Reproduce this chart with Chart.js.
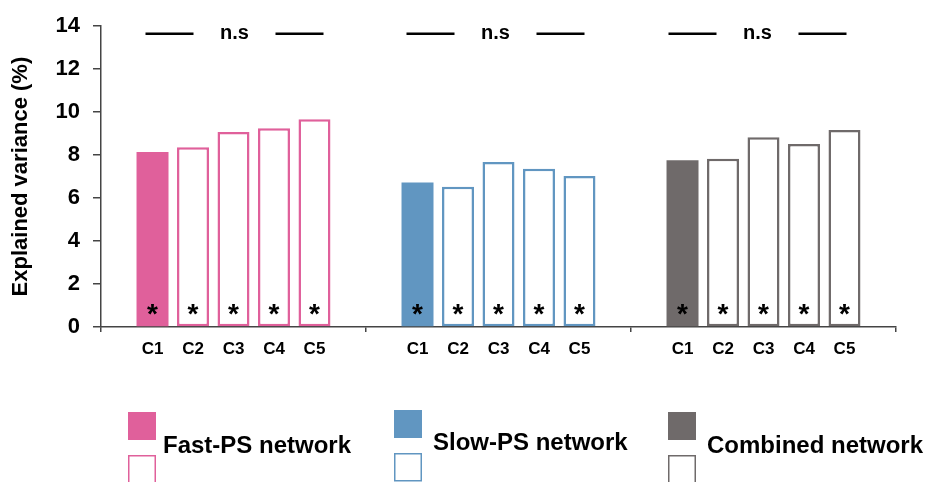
<!DOCTYPE html>
<html>
<head>
<meta charset="utf-8">
<script src="https://cdn.jsdelivr.net/npm/chart.js@4/dist/chart.umd.min.js"></script>
<style>
  html, body { margin: 0; padding: 0; background: #fff; }
  #wrap { width: 931px; height: 482px; }
</style>
</head>
<body>
<div id="wrap"><canvas id="chart" width="931" height="482"></canvas></div>
<script>
// --- Data ---
const networks = ["Fast-PS network", "Slow-PS network", "Combined network"];
const components = ["C1", "C2", "C3", "C4", "C5"];
const fastPS = [8.14, 8.37, 9.08, 9.25, 9.67];
const slowPS = [6.72, 6.53, 7.68, 7.37, 7.03];
const combined = [7.76, 7.83, 8.83, 8.52, 9.17];
const yTicks = [0, 2, 4, 6, 8, 10, 12, 14];
const sigLabel = "n.s";

// --- Colours per network ---
const netColors = ["#e0609b", "#6196c1", "#6f6a6a"];
const FONT = "'Liberation Sans', Arial, sans-serif";

// one dataset per component, one category per network
const datasets = components.map((c, i) => ({
  label: c,
  data: [fastPS[i], slowPS[i], combined[i]],
  backgroundColor: i === 0 ? netColors : "#ffffff",
  borderColor: netColors,
  borderWidth: i === 0 ? 0 : 2.5,
  borderSkipped: false,
  categoryPercentage: 0.764,
  barPercentage: 0.79,
}));

// --- Annotations: asterisks, component labels, n.s bars, legend ---
const annotate = {
  id: "annotate",
  afterDatasetsDraw(chart) {
    const ctx = chart.ctx;
    const x = chart.scales.x;
    const y = chart.scales.y;
    ctx.save();
    ctx.fillStyle = "#000";
    ctx.textAlign = "center";

    // asterisk inside each bar + component label under it
    components.forEach((c, d) => {
      chart.getDatasetMeta(d).data.forEach((bar) => {
        ctx.font = "bold 28px " + FONT;
        ctx.textBaseline = "alphabetic";
        ctx.fillText("*", bar.x, y.getPixelForValue(0) - 4);
        ctx.font = "bold 17px " + FONT;
        ctx.fillText(c, bar.x, y.bottom + 27);
      });
    });

    // n.s brackets above each group
    const shifts = [1, -3, -6];
    const lineY = y.getPixelForValue(13.65);
    networks.forEach((n, g) => {
      const cx = x.getPixelForValue(g) + shifts[g];
      ctx.strokeStyle = "#000";
      ctx.lineWidth = 2.5;
      ctx.beginPath();
      ctx.moveTo(cx - 89, lineY); ctx.lineTo(cx - 41, lineY);
      ctx.moveTo(cx + 41, lineY); ctx.lineTo(cx + 89, lineY);
      ctx.stroke();
      ctx.font = "bold 20px " + FONT;
      ctx.textBaseline = "alphabetic";
      ctx.fillText(sigLabel, cx, lineY + 5);
    });

    // legend
    const legendPos = [
      { x: 128, y: 412, tx: 163, ty: 453 },
      { x: 394, y: 410, tx: 433, ty: 450 },
      { x: 668, y: 412, tx: 707, ty: 453 },
    ];
    networks.forEach((n, g) => {
      const p = legendPos[g];
      ctx.fillStyle = netColors[g];
      ctx.fillRect(p.x, p.y, 28, 28);
      ctx.strokeStyle = netColors[g];
      ctx.lineWidth = 1.5;
      ctx.strokeRect(p.x + 0.75, p.y + 43.75, 26.5, 27);
      ctx.fillStyle = "#000";
      ctx.textAlign = "left";
      ctx.font = "bold 24px " + FONT;
      ctx.fillText(n, p.tx, p.ty);
    });
    ctx.restore();
  },
};

new Chart(document.getElementById("chart"), {
  type: "bar",
  data: { labels: networks, datasets: datasets },
  options: {
    responsive: false,
    animation: false,
    devicePixelRatio: 1,
    layout: { padding: { top: 23, right: 35, bottom: 125, left: 0 } },
    plugins: { legend: { display: false }, tooltip: { enabled: false } },
    scales: {
      x: {
        offset: true,
        grid: {
          display: true,
          offset: true,
          drawOnChartArea: false,
          drawTicks: true,
          tickLength: 5,
          color: "#444",
          lineWidth: 1.5,
        },
        border: { display: true, color: "#444", width: 1.5 },
        ticks: { display: false },
        afterFit: (s) => { s.height = 30; },
      },
      y: {
        min: 0,
        max: 14,
        afterBuildTicks: (s) => { s.ticks = yTicks.map((v) => ({ value: v })); },
        grid: {
          drawOnChartArea: false,
          drawTicks: true,
          tickLength: 8,
          color: "#444",
          lineWidth: 1.5,
        },
        border: { display: true, color: "#444", width: 1.5 },
        ticks: {
          padding: 13,
          color: "#000",
          font: { family: FONT, size: 22, weight: "bold" },
        },
        title: {
          display: true,
          text: "Explained variance (%)",
          color: "#000",
          font: { family: FONT, size: 22, weight: "bold" },
          padding: { top: 8, bottom: 0 },
        },
        afterFit: (s) => { s.width = 101; },
      },
    },
  },
  plugins: [annotate],
});
</script>
</body>
</html>
